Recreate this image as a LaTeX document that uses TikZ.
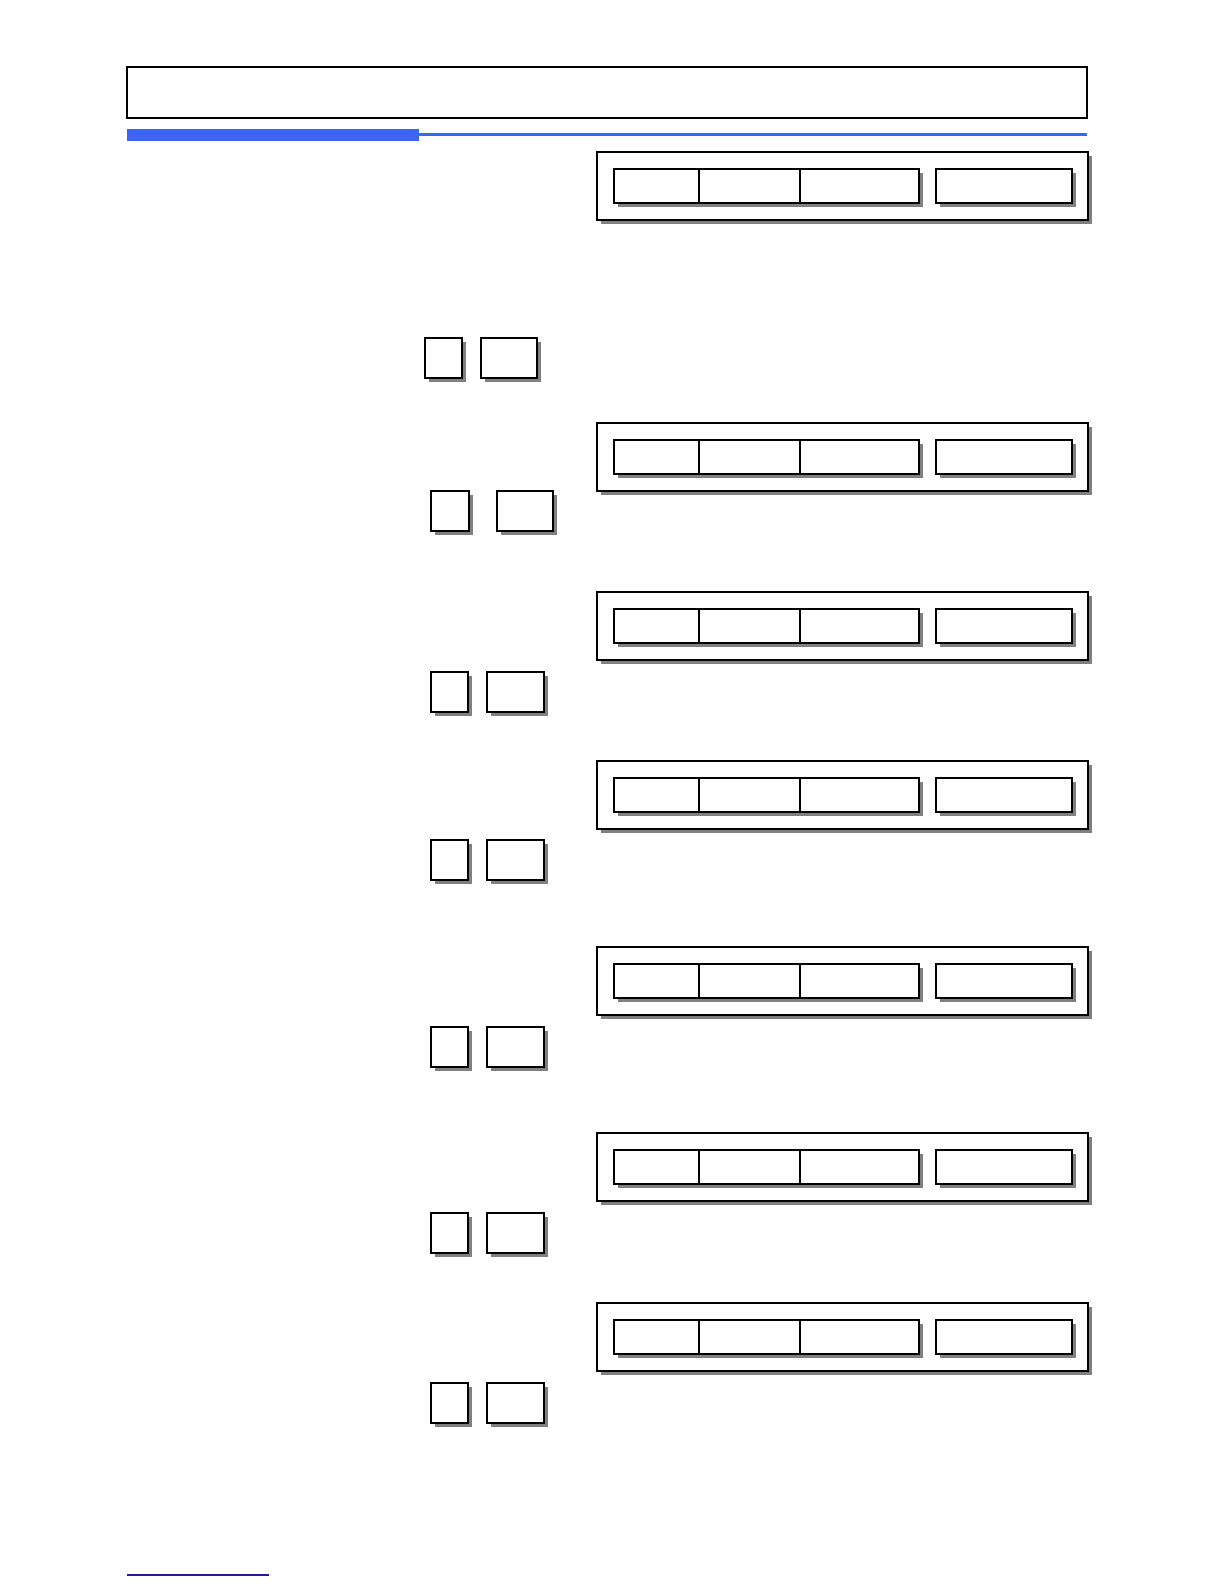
\documentclass[tikz,border=0pt]{standalone}
\usetikzlibrary{shadows}
\definecolor{barblue}{RGB}{61,102,240}
\definecolor{linkblue}{RGB}{30,30,140}
\tikzset{
  panelbox/.style={draw, line width=1pt, fill=white,
    drop shadow={shadow xshift=2pt, shadow yshift=-2pt, fill=black!50, opacity=1}},
  keybox/.style={panelbox, line width=1.3pt},
}
\begin{document}
\begin{tikzpicture}[x=0.5pt,y=-0.5pt]
  \useasboundingbox (0,0) rectangle (1224,1584);

  % title frame and bar
  \draw[line width=0.7pt] (127,67) rectangle (1087,118);
  \fill[barblue] (127,129) rectangle (419,141);
  \fill[barblue] (419,133.5) rectangle (1087,136.5);

  % display panels
  \foreach \t in {152,423,592,761,947,1133,1303} {
    \draw[panelbox] (597,\t) rectangle (1088,\t+68);
    \draw[panelbox] (614,\t+17) rectangle (919,\t+51);
    \draw[line width=1pt] (699,\t+17) -- (699,\t+51);
    \draw[line width=0.8pt] (800,\t+17) -- (800,\t+51);
    \draw[panelbox] (936,\t+17) rectangle (1072,\t+51);
  }

  % keys
  \foreach \a/\b/\c/\d/\y in {425/462/481/537/338, 431/469/497/553/491,
      431/468/487/544/672, 431/468/487/544/840, 431/468/487/544/1027,
      431/468/487/544/1213, 431/468/487/544/1383} {
    \draw[keybox] (\a,\y) rectangle (\b,\y+40);
    \draw[keybox, line width=1.1pt] (\c,\y) rectangle (\d,\y+40);
  }

  \draw[linkblue, line width=0.9pt] (127,1575) -- (269,1575);
\end{tikzpicture}
\end{document}
